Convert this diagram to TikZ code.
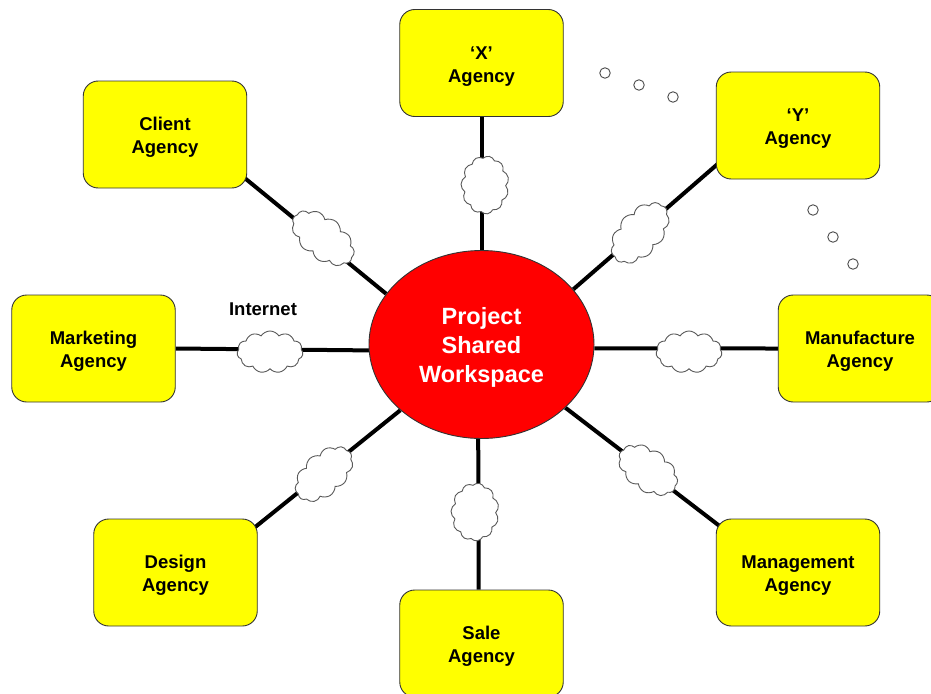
\documentclass[tikz,border=0pt]{standalone}
\usepackage{fontspec}
\setmainfont{Liberation Sans}
\usetikzlibrary{shapes.geometric,shapes.symbols,backgrounds}
\definecolor{boxyellow}{RGB}{255,255,0}
\definecolor{hubred}{RGB}{255,0,0}
\newcommand{\liftbox}{\rule{0pt}{19.5pt}}
\newcommand{\lifthub}{\rule{0pt}{23pt}}
\tikzset{
  x=1pt,y=-1pt,
  agency/.style={draw=black!80,line width=0.9pt,fill=boxyellow,rounded corners=15pt,minimum width=163.5pt,minimum height=107pt,align=center,inner sep=0pt,font=\fontsize{18.5}{23}\selectfont\bfseries},
  hubnode/.style={ellipse,draw=black!80,line width=0.9pt,fill=hubred,minimum width=225pt,minimum height=188pt,inner sep=0pt,align=center,text=white,font=\fontsize{23.5}{29}\selectfont\bfseries},
  net/.style={cloud,cloud puffs=11,cloud puff arc=115,draw=black!65,line width=0.9pt,fill=white,inner sep=0pt},
  link/.style={line width=4pt,black},
  diag/.style={link,shorten <=-7pt},
  dot/.style={circle,draw=black!70,line width=0.9pt,fill=white,minimum size=10.5pt,inner sep=0pt},
  lbl/.style={font=\fontsize{18.5}{23}\selectfont\bfseries,inner sep=0pt}
}
\begin{document}
\begin{tikzpicture}
\path[use as bounding box,clip] (0,0) rectangle (931,693);
\node[hubnode] (hub) at (481.5,344.5) {\lifthub Project\\Shared\\Workspace};
\node[agency] (x) at (481.5,63) {\liftbox ‘X’\\Agency};
\node[agency] (y) at (798,125.5) {\liftbox ‘Y’\\Agency};
\node[agency] (client) at (165,134.5) {\liftbox Client\\Agency};
\node[agency] (marketing) at (93.5,348.5) {\liftbox Marketing\\Agency};
\node[agency] (manufacture) at (860,348.5) {\liftbox Manufacture\\Agency};
\node[agency] (design) at (175.5,572.5) {\liftbox Design\\Agency};
\node[agency] (management) at (798,572.5) {\liftbox Management\\Agency};
\node[agency] (sale) at (481.5,643.5) {\liftbox Sale\\Agency};
\node[net,minimum width=72pt,minimum height=42pt,aspect=1.7,rotate=-38] (c1) at (323,238) {};
\node[net,minimum width=58pt,minimum height=48pt,aspect=1.2,rotate=88] (c2) at (485,185) {};
\node[net,minimum width=72pt,minimum height=44pt,aspect=1.6,rotate=48] (c3) at (640,233) {};
\node[net,minimum width=66pt,minimum height=42pt,aspect=1.6] (c4) at (270,352) {};
\node[net,minimum width=66pt,minimum height=42pt,aspect=1.6] (c5) at (689,352) {};
\node[net,minimum width=68pt,minimum height=42pt,aspect=1.6,rotate=42] (c6) at (324,474) {};
\node[net,minimum width=66pt,minimum height=42pt,aspect=1.6,rotate=-35] (c7) at (648,470) {};
\node[net,minimum width=58pt,minimum height=48pt,aspect=1.2,rotate=88] (c8) at (475,512) {};
\node[lbl] (internet) at (263,309) {Internet};
\node[dot] (d1) at (605,73) {};
\node[dot] (d2) at (639,85) {};
\node[dot] (d3) at (673,97) {};
\node[dot] (d4) at (813,210) {};
\node[dot] (d5) at (833,237) {};
\node[dot] (d6) at (853,264) {};
\begin{pgfonlayer}{background}
\draw[link] (x.south) -- (hub.90);
\draw[diag] (y.206.6) -- (hub.31.9);
\draw[diag] (client.-29.3) -- (hub.152.2);
\draw[link] (marketing.east) -- (hub.183);
\draw[link] (manufacture.west) -- (hub.-2);
\draw[diag] (design.30.5) -- (hub.219.4);
\draw[diag] (management.149.3) -- (hub.-37.5);
\draw[link] (sale.93.7) -- (hub.268.2);
\end{pgfonlayer}
\end{tikzpicture}
\end{document}
